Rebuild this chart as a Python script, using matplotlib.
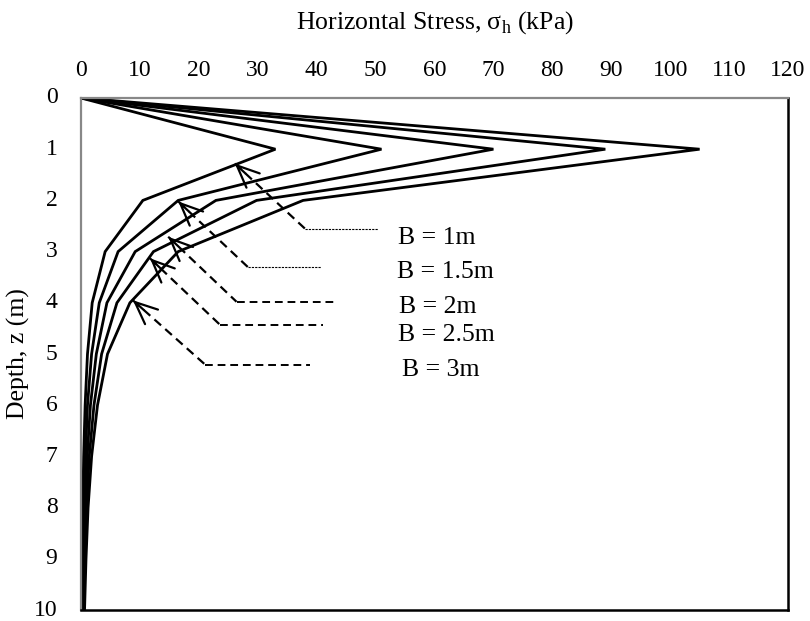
import numpy as np
import matplotlib
matplotlib.use("Agg")
import matplotlib.pyplot as plt

plt.rcParams['font.family'] = ['Liberation Serif', 'DejaVu Serif']
plt.rcParams['mathtext.fontset'] = 'custom'
plt.rcParams['mathtext.rm'] = 'Liberation Serif'

# depth (m) and horizontal stress (kPa) for each footing width B
depth = [0, 1, 2, 3, 4, 5, 6, 7, 8, 9, 10]
sigma_b1 = [0, 33.0, 10.5, 4.1, 1.9, 1.1, 0.7, 0.45, 0.3, 0.2, 0.15]
sigma_b15 = [0, 51.0, 16.5, 6.3, 3.1, 1.8, 1.1, 0.75, 0.5, 0.35, 0.25]
sigma_b2 = [0, 70.0, 22.9, 9.2, 4.4, 2.6, 1.6, 1.05, 0.7, 0.5, 0.35]
sigma_b25 = [0, 89.0, 29.8, 12.3, 6.1, 3.5, 2.2, 1.4, 0.95, 0.65, 0.45]
sigma_b3 = [0, 105.0, 37.7, 16.5, 8.3, 4.5, 2.8, 1.8, 1.2, 0.85, 0.6]
series = [sigma_b1, sigma_b15, sigma_b2, sigma_b25, sigma_b3]
labels = ['B = 1m', 'B = 1.5m', 'B = 2m', 'B = 2.5m', 'B = 3m']

x_ticks = list(range(0, 121, 10))
y_ticks = list(range(0, 11))

# annotation layout: arrow tip, elbow, end of leader, label position
tips = [(26.1, 1.28), (16.5, 2.02), (14.8, 2.71), (11.7, 3.13), (8.8, 3.95)]
elbows = [(38.0, 2.55), (28.4, 3.31), (26.4, 3.98), (23.6, 4.43), (21.1, 5.21)]
ends = [50.4, 40.7, 43.7, 41.1, 38.9]
label_pos = [(60.4, 2.74), (61.8, 3.39), (60.5, 4.08), (62.1, 4.63), (61.0, 5.31)]

fig = plt.figure(figsize=(8.1, 6.21), dpi=100)
ax = fig.add_axes([0.1, 0.0177, 0.8728, 0.8245])

for s in series:
    ax.plot(s, depth, color='black', lw=2.0, solid_joinstyle='miter')

for i in range(len(labels)):
    tx, ty = tips[i]
    ex, ey = elbows[i]
    ax.plot([tx, ex], [ty, ey], color='black', lw=1.6, ls=(0, (4, 2.5)))
    if i < 2:
        ax.plot([ex, ends[i]], [ey, ey], color='black', lw=0.8, ls=(0, (2, 1)))
    else:
        ax.plot([ex, ends[i]], [ey, ey], color='black', lw=1.4, ls=(0, (4, 2.5)))
    # arrow head
    dx, dy = ex - tx, ey - ty
    ax.annotate('', xy=(tx, ty), xytext=(tx + dx * 0.15, ty + dy * 0.15),
                arrowprops=dict(arrowstyle='->,head_length=0.8,head_width=0.35',
                                color='black', lw=1.6, mutation_scale=20,
                                shrinkA=0, shrinkB=0))
    ax.text(label_pos[i][0], label_pos[i][1], labels[i], fontsize=18.5,
            ha='center', va='center')

ax.set_xlim(0, 120)
ax.set_ylim(10, 0)
ax.set_xticks(x_ticks)
ax.set_yticks(y_ticks)
ax.xaxis.tick_top()
ax.xaxis.set_label_position('top')
ax.tick_params(axis='both', length=0, labelsize=17)
ax.tick_params(axis='x', pad=12.5)
ax.tick_params(axis='y', pad=17)
for lab in ax.get_yticklabels():
    lab.set_verticalalignment('center')
ax.set_xlabel('Horizontal Stress, σ$_\\mathregular{h}$ (kPa)', fontsize=18.5, labelpad=22)
ax.set_ylabel('Depth, z (m)', fontsize=18.5, labelpad=3)

ax.spines['left'].set_color('#888888')
ax.spines['top'].set_color('#888888')
ax.spines['left'].set_linewidth(1.6)
ax.spines['top'].set_linewidth(1.6)
ax.spines['right'].set_color('black')
ax.spines['bottom'].set_color('black')
ax.spines['right'].set_linewidth(1.8)
ax.spines['bottom'].set_linewidth(1.8)

fig.savefig('out.png', dpi=100)
